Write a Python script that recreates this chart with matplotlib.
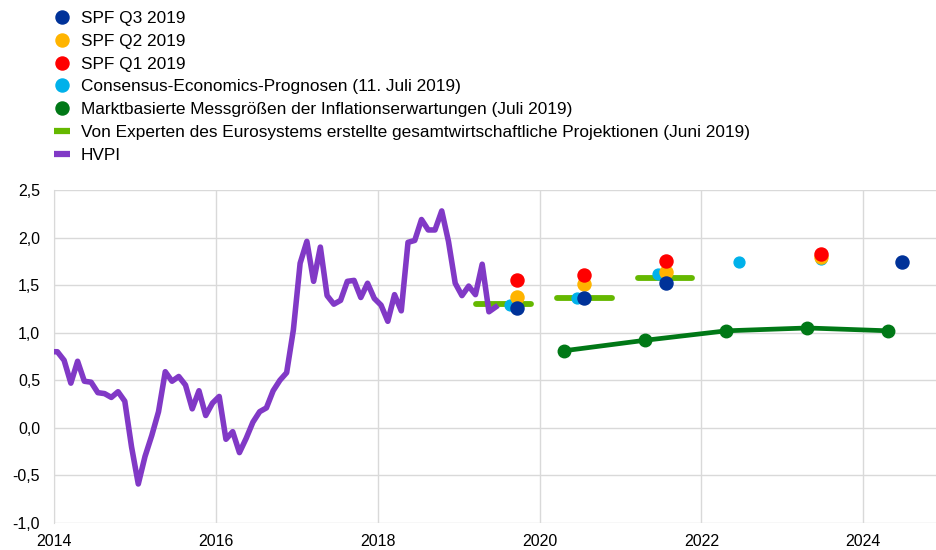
import numpy as np
import matplotlib
matplotlib.use("Agg")
from matplotlib import pyplot as plt
from matplotlib.lines import Line2D

plt.rcParams['font.family'] = ['Liberation Sans', 'DejaVu Sans']

# HVPI, monthly values Dec 2013 - Jun 2019 (y/y %)
hvpi_start = 2013 + 11 / 12.
hvpi = [0.80,
        0.80, 0.71, 0.47, 0.70, 0.49, 0.48, 0.37, 0.36, 0.32, 0.38, 0.28, -0.20,
        -0.59, -0.30, -0.08, 0.17, 0.59, 0.49, 0.54, 0.45, 0.20, 0.39, 0.13, 0.26,
        0.33, -0.12, -0.04, -0.26, -0.11, 0.06, 0.17, 0.21, 0.39, 0.50, 0.58, 1.03,
        1.73, 1.96, 1.54, 1.90, 1.39, 1.30, 1.34, 1.54, 1.55, 1.37, 1.52, 1.36,
        1.29, 1.12, 1.40, 1.23, 1.95, 1.97, 2.19, 2.08, 2.08, 2.28, 1.96, 1.52,
        1.39, 1.49, 1.40, 1.72, 1.22, 1.27]

# Eurosystem staff projections (June 2019)
proj_years = [2019, 2020, 2021]
proj_vals = [1.30, 1.36, 1.57]

# market-based measures (July 2019)
mkt_x = [2020.30, 2021.30, 2022.31, 2023.31, 2024.31]
mkt_vals = [0.81, 0.92, 1.02, 1.05, 1.02]

# Consensus Economics (11 July 2019)
cons_x = [2019.64, 2020.46, 2021.47, 2022.47, 2023.48]
cons_vals = [1.29, 1.36, 1.62, 1.74, 1.77]

# SPF rounds
spf_q1_x = [2019.72, 2020.55, 2021.56, 2023.48]
spf_q1 = [1.55, 1.61, 1.75, 1.83]
spf_q2_x = [2019.72, 2020.55, 2021.56, 2023.48]
spf_q2 = [1.38, 1.51, 1.64, 1.80]
spf_q3_x = [2019.72, 2020.55, 2021.56, 2024.48]
spf_q3 = [1.26, 1.36, 1.52, 1.74]

labels = ['SPF Q3 2019', 'SPF Q2 2019', 'SPF Q1 2019',
          'Consensus-Economics-Prognosen (11. Juli 2019)',
          'Marktbasierte Messgrößen der Inflationserwartungen (Juli 2019)',
          'Von Experten des Eurosystems erstellte gesamtwirtschaftliche Projektionen (Juni 2019)',
          'HVPI']

c_q3 = '#003299'
c_q2 = '#FFB400'
c_q1 = '#FF0000'
c_cons = '#00B1EA'
c_mkt = '#007816'
c_proj = '#65B800'
c_hvpi = '#8139C6'

fig = plt.figure(figsize=(9.36, 5.5), dpi=100)
ax = fig.add_axes([54 / 936., 1 - 523 / 550., 1 - 54 / 936., (523 - 190) / 550.])

# projections as short horizontal bars
for yr, v in zip(proj_years, proj_vals):
    ax.plot([yr + 0.22, yr + 0.89], [v, v], color=c_proj, lw=4.2,
            solid_capstyle='round', zorder=3)

hx = hvpi_start + (np.arange(len(hvpi)) + 0.5) / 12.
ax.plot(hx, hvpi, color=c_hvpi, lw=4.0, zorder=4)

ax.plot(mkt_x, mkt_vals, color=c_mkt, lw=3.4, marker='o', ms=9.0, zorder=4)
ax.plot(cons_x, cons_vals, ls='none', marker='o', ms=7.8, color=c_cons, zorder=5)
ax.plot(spf_q2_x, spf_q2, ls='none', marker='o', ms=9.4, color=c_q2, zorder=6)
ax.plot(spf_q1_x, spf_q1, ls='none', marker='o', ms=9.4, color=c_q1, zorder=7)
ax.plot(spf_q3_x, spf_q3, ls='none', marker='o', ms=9.4, color=c_q3, zorder=8)

ax.set_xlim(2014, 2024.9)
ax.set_ylim(-1.0, 2.5)
ax.set_xticks([2014, 2016, 2018, 2020, 2022, 2024])
ax.set_yticks(np.arange(-1.0, 2.51, 0.5))
ax.set_yticklabels([('%.1f' % t).replace('.', ',') for t in np.arange(-1.0, 2.51, 0.5)])
ax.grid(True, color='#d9d9d9', lw=1.0, zorder=0)
ax.set_axisbelow(True)
for s in ['top', 'right', 'bottom']:
    ax.spines[s].set_visible(False)
ax.spines['left'].set_color('#d9d9d9')
ax.tick_params(length=0, labelsize=11.5, colors='#000000', pad=10)
ax.tick_params(axis='x', pad=8)

dot = dict(ls='none', marker='o', ms=9.4)
handles = [Line2D([], [], color=c_q3, **dot),
           Line2D([], [], color=c_q2, **dot),
           Line2D([], [], color=c_q1, **dot),
           Line2D([], [], color=c_cons, **dot),
           Line2D([], [], color=c_mkt, **dot),
           Line2D([], [], color=c_proj, lw=4.5, solid_capstyle='butt'),
           Line2D([], [], color=c_hvpi, lw=4.5, solid_capstyle='butt')]
fig.legend(handles, labels, loc='upper left', bbox_to_anchor=(54 / 936., 1 - 11 / 550.),
           frameon=False, fontsize=12.4, handlelength=0.95, handletextpad=0.6,
           labelspacing=0.45, borderaxespad=0, borderpad=0)

fig.savefig('out.png', dpi=100)
